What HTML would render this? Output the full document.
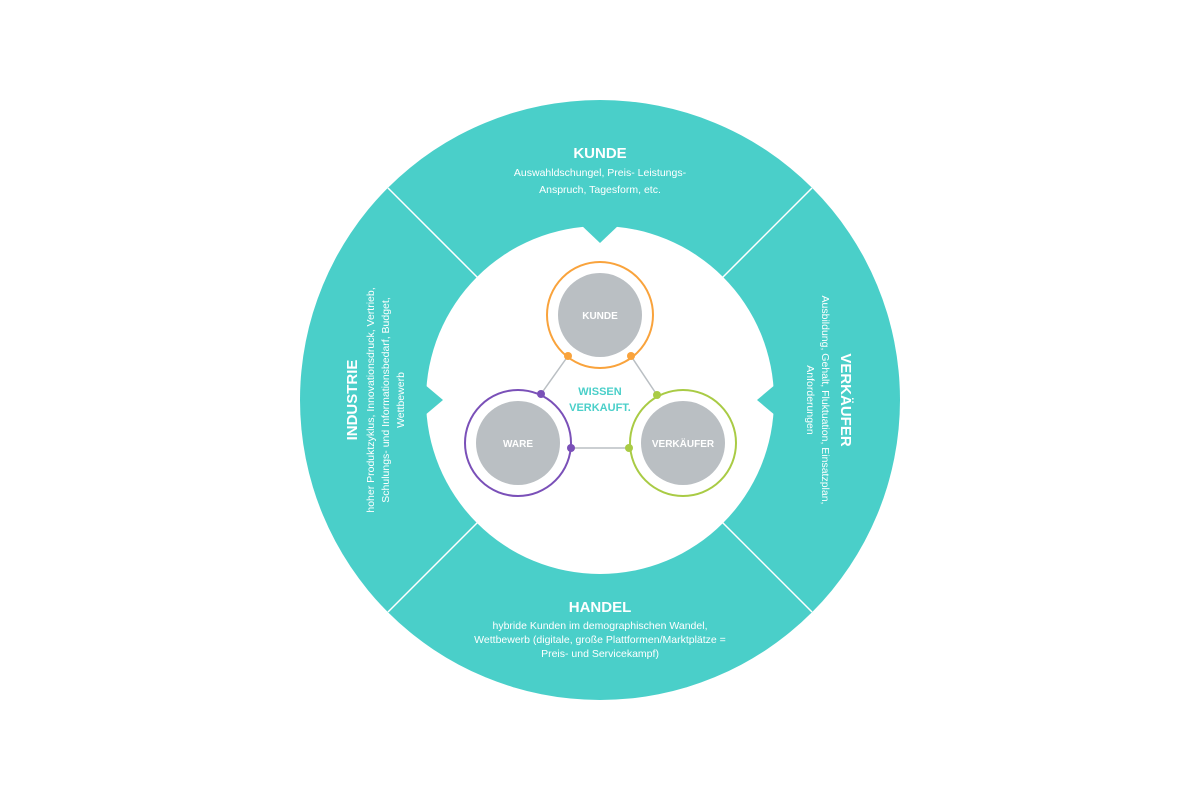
<!DOCTYPE html>
<html><head><meta charset="utf-8"><style>
html,body{margin:0;padding:0;background:#fff;width:1200px;height:800px;overflow:hidden}
svg text{font-family:"Liberation Sans",sans-serif}
</style></head><body>
<svg width="1200" height="800" viewBox="0 0 1200 800" xmlns="http://www.w3.org/2000/svg">
<circle cx="600" cy="400" r="300" fill="#4ACFC9"/>
<g stroke="#fff" stroke-width="1.5">
<line x1="388" y1="188" x2="480" y2="280"/>
<line x1="812" y1="188" x2="720" y2="280"/>
<line x1="388" y1="612" x2="480" y2="520"/>
<line x1="812" y1="612" x2="720" y2="520"/>
</g>
<circle cx="600" cy="400" r="174" fill="#fff"/>
<polygon points="580,224 620,224 600,243" fill="#4ACFC9"/>
<polygon points="424,384 424,416 443,400" fill="#4ACFC9"/>
<polygon points="776,384 776,416 757,400" fill="#4ACFC9"/>
<g stroke="#BABFC3" stroke-width="1.5">
<line x1="568" y1="356" x2="541" y2="394"/>
<line x1="631" y1="356" x2="657" y2="395"/>
<line x1="571" y1="448" x2="629" y2="448"/>
</g>
<circle cx="600" cy="315" r="53" fill="none" stroke="#F9A33C" stroke-width="2"/>
<circle cx="600" cy="315" r="42" fill="#BABFC3"/>
<circle cx="518" cy="443" r="53" fill="none" stroke="#7A50B8" stroke-width="2"/>
<circle cx="518" cy="443" r="42" fill="#BABFC3"/>
<circle cx="683" cy="443" r="53" fill="none" stroke="#A9CB45" stroke-width="2"/>
<circle cx="683" cy="443" r="42" fill="#BABFC3"/>
<circle cx="568" cy="356" r="4" fill="#F9A33C"/>
<circle cx="631" cy="356" r="4" fill="#F9A33C"/>
<circle cx="541" cy="394" r="4" fill="#7A50B8"/>
<circle cx="571" cy="448" r="4" fill="#7A50B8"/>
<circle cx="657" cy="395" r="4" fill="#A9CB45"/>
<circle cx="629" cy="448" r="4" fill="#A9CB45"/>
<g fill="#fff" font-weight="bold" font-size="10" text-anchor="middle">
<text x="600" y="319">KUNDE</text>
<text x="518" y="447">WARE</text>
<text x="683" y="447">VERKÄUFER</text>
</g>
<g fill="#4ACFC9" font-weight="bold" font-size="11" text-anchor="middle">
<text x="600" y="395">WISSEN</text>
<text x="600" y="411">VERKAUFT.</text>
</g>
<g fill="#fff" text-anchor="middle">
<text x="600" y="158" font-size="15" font-weight="bold">KUNDE</text>
<text x="600" y="176" font-size="10.5">Auswahldschungel, Preis- Leistungs-</text>
<text x="600" y="193" font-size="10.5">Anspruch, Tagesform, etc.</text>
<text x="600" y="612" font-size="15" font-weight="bold">HANDEL</text>
<text x="600" y="629" font-size="10.5">hybride Kunden im demographischen Wandel,</text>
<text x="600" y="643" font-size="10.5">Wettbewerb (digitale, große Plattformen/Marktplätze =</text>
<text x="600" y="657" font-size="10.5">Preis- und Servicekampf)</text>
<g transform="translate(352,400) rotate(-90)">
<text x="0" y="5" font-size="15" font-weight="bold">INDUSTRIE</text>
<text x="0" y="22" font-size="10.5">hoher Produktzyklus, Innovationsdruck, Vertrieb,</text>
<text x="0" y="37" font-size="10.5">Schulungs- und Informationsbedarf,  Budget,</text>
<text x="0" y="52" font-size="10.5">Wettbewerb</text>
</g>
<g transform="translate(846,400) rotate(90)">
<text x="0" y="5" font-size="15" font-weight="bold">VERKÄUFER</text>
<text x="0" y="24" font-size="10.5">Ausbildung, Gehalt, Fluktuation, Einsatzplan,</text>
<text x="0" y="39" font-size="10.5">Anforderungen</text>
</g>
</g>
</svg>
</body></html>
